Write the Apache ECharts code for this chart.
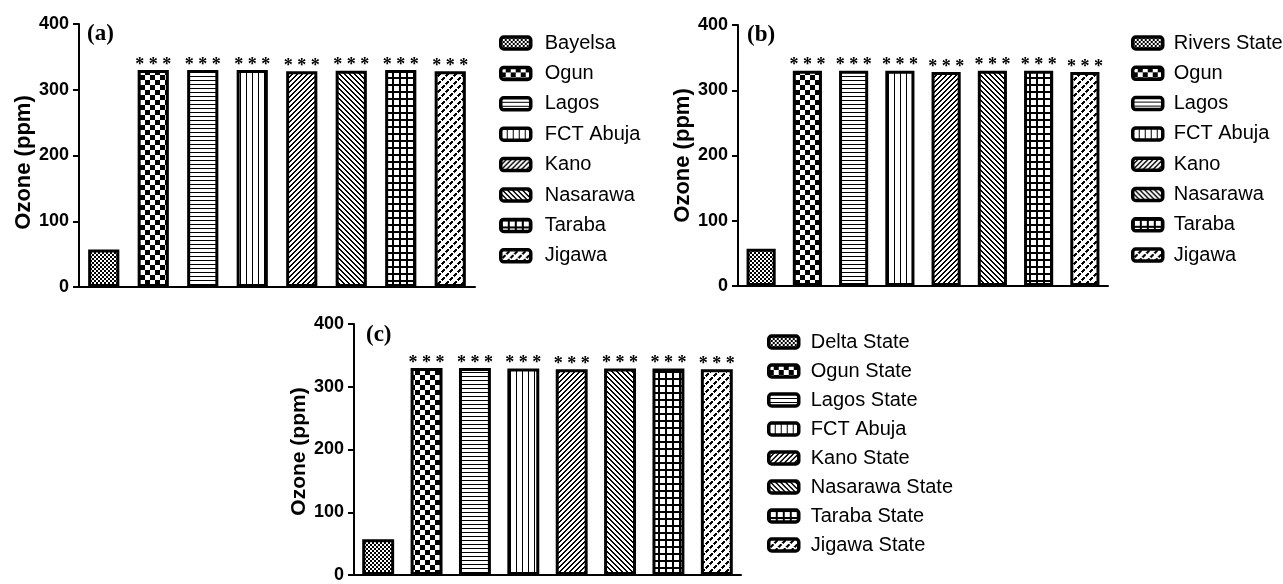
<!DOCTYPE html>
<html>
<head>
<meta charset="utf-8">
<script src="https://cdn.jsdelivr.net/npm/echarts@6/dist/echarts.min.js"></script>
<style>
  html, body { margin: 0; padding: 0; background: #fff; }
  #chart { width: 1283px; height: 584px; }
</style>
</head>
<body>
<div id="chart"></div>
<script>
// Ozone levels (ppm) per state, three comparison panels
const statesA = ['Bayelsa', 'Ogun', 'Lagos', 'FCT Abuja', 'Kano', 'Nasarawa', 'Taraba', 'Jigawa'];
const valuesA = [57, 330, 330, 330, 328, 329, 330, 328];

const statesB = ['Rivers State', 'Ogun', 'Lagos', 'FCT Abuja', 'Kano', 'Nasarawa', 'Taraba', 'Jigawa'];
const valuesB = [57, 330, 330, 330, 328, 330, 330, 328];

const statesC = ['Delta State', 'Ogun State', 'Lagos State', 'FCT Abuja', 'Kano State', 'Nasarawa State', 'Taraba State', 'Jigawa State'];
const valuesC = [57, 330, 330, 329, 328, 329, 329, 328];

const panelTags = ['(a)', '(b)', '(c)'];
const yMin = 0, yMax = 400, yStep = 100;
const yTitle = 'Ozone (ppm)';
const sigMark = '* * *';

// Monochrome fill patterns, one per bar position
function makePattern(w, h, isInk) {
  const c = document.createElement('canvas');
  c.width = w; c.height = h;
  const ctx = c.getContext('2d');
  const img = ctx.createImageData(w, h);
  for (let y = 0; y < h; y++) {
    for (let x = 0; x < w; x++) {
      const v = isInk(x, y) ? 0 : 255;
      const k = (y * w + x) * 4;
      img.data[k] = v; img.data[k + 1] = v; img.data[k + 2] = v; img.data[k + 3] = 255;
    }
  }
  ctx.putImageData(img, 0, 0);
  return { image: c, repeat: 'repeat' };
}
const patterns = [
  makePattern(4, 4, (x, y) => ((x >> 1) + (y >> 1)) & 1),                       // fine checks
  makePattern(10, 10, (x, y) => (Math.floor(x / 5) + Math.floor(y / 5)) & 1),   // coarse checks
  makePattern(1, 4, (x, y) => y % 4 === 0),                                     // horizontal lines
  makePattern(6, 1, (x, y) => x % 6 === 0),                                     // vertical lines
  makePattern(5, 5, (x, y) => (x + y) % 5 < 2),                                 // forward diagonals
  makePattern(5, 5, (x, y) => ((x - y) % 5 + 5) % 5 < 2),                       // back diagonals
  makePattern(7, 7, (x, y) => x % 7 < 2 || y % 7 < 2),                          // grid
  makePattern(8, 8, (x, y) => ((x + y) % 8) < 3 && (((x - y) % 8 + 8) % 8) > 1) // broken diagonals
];

const panels = [
  { states: statesA, values: valuesA, grid: { left: 79, top: 24, width: 396, height: 263 }, barWidth: '63%',
    nameSize: 22, namePad: [0, 14, 0, 0],
    legend: { left: 494, top: 28, gap: 10.4, pad: 9 }, tag: { x: 87, y: 23 } },
  { states: statesB, values: valuesB, grid: { left: 738, top: 25, width: 370, height: 261 }, barWidth: '63%',
    nameSize: 22, namePad: [0, 0, 0, 0],
    legend: { left: 1126, top: 28, gap: 10.3, pad: 6 }, tag: { x: 747, y: 24 } },
  { states: statesC, values: valuesC, grid: { left: 354, top: 324, width: 387, height: 254 }, barWidth: '66%',
    nameSize: 21, namePad: [0, 4, 0, 0],
    legend: { left: 762, top: 327, gap: 9, pad: 7 }, tag: { x: 366, y: 324 } }
];

const grids = [], xAxes = [], yAxes = [], legends = [], series = [], graphics = [];

panels.forEach((p, pi) => {
  grids.push(Object.assign({ containLabel: false }, p.grid));
  xAxes.push({
    type: 'category', gridIndex: pi, data: p.states,
    axisLine: { show: true, lineStyle: { color: '#000', width: 2 } },
    axisTick: { show: false }, axisLabel: { show: false }, splitLine: { show: false }
  });
  yAxes.push({
    type: 'value', gridIndex: pi, min: yMin, max: yMax, interval: yStep,
    name: yTitle, nameLocation: 'middle', nameGap: 44,
    nameTextStyle: { fontFamily: 'Liberation Sans', fontWeight: 'bold', fontSize: p.nameSize, color: '#000', padding: p.namePad },
    axisLine: { show: true, lineStyle: { color: '#000', width: 2 } },
    axisTick: { show: true, length: 6, lineStyle: { color: '#000', width: 2 } },
    axisLabel: { margin: 10, fontFamily: 'Liberation Sans', fontWeight: 'bold', fontSize: 18, color: '#000' },
    splitLine: { show: false }
  });
  legends.push({
    orient: 'vertical', left: p.legend.left, top: p.legend.top, itemGap: p.legend.gap,
    itemWidth: 30, itemHeight: 12, icon: 'roundRect',
    itemStyle: { borderColor: '#000', borderWidth: 3.5 },
    textStyle: { fontFamily: 'Liberation Sans', fontSize: 20, color: '#000', lineHeight: 20, padding: [0, 0, 0, p.legend.pad] },
    data: p.states, selectedMode: false
  });
  p.states.forEach((name, i) => {
    series.push({
      type: 'bar', name: name, xAxisIndex: pi, yAxisIndex: pi, stack: 'panel' + pi,
      barWidth: p.barWidth,
      data: p.values.map((v, j) => (j === i ? v : '-')),
      itemStyle: { color: patterns[i], borderColor: '#000', borderWidth: 3 },
      label: {
        show: i > 0, position: 'top', distance: 0, offset: [0, 4], formatter: sigMark,
        fontFamily: 'Liberation Serif', fontWeight: 'bold', fontSize: 18, color: '#000'
      },
      emphasis: { disabled: true },
      animation: false
    });
  });
  graphics.push({
    type: 'text', left: p.tag.x, top: p.tag.y,
    style: { text: panelTags[pi], font: 'bold 23px "Liberation Serif"', fill: '#000' }
  });
});

const chart = echarts.init(document.getElementById('chart'), null, { renderer: 'canvas' });
chart.setOption({
  backgroundColor: '#fff',
  animation: false,
  grid: grids, xAxis: xAxes, yAxis: yAxes,
  legend: legends, series: series, graphic: graphics
});
</script>
</body>
</html>
